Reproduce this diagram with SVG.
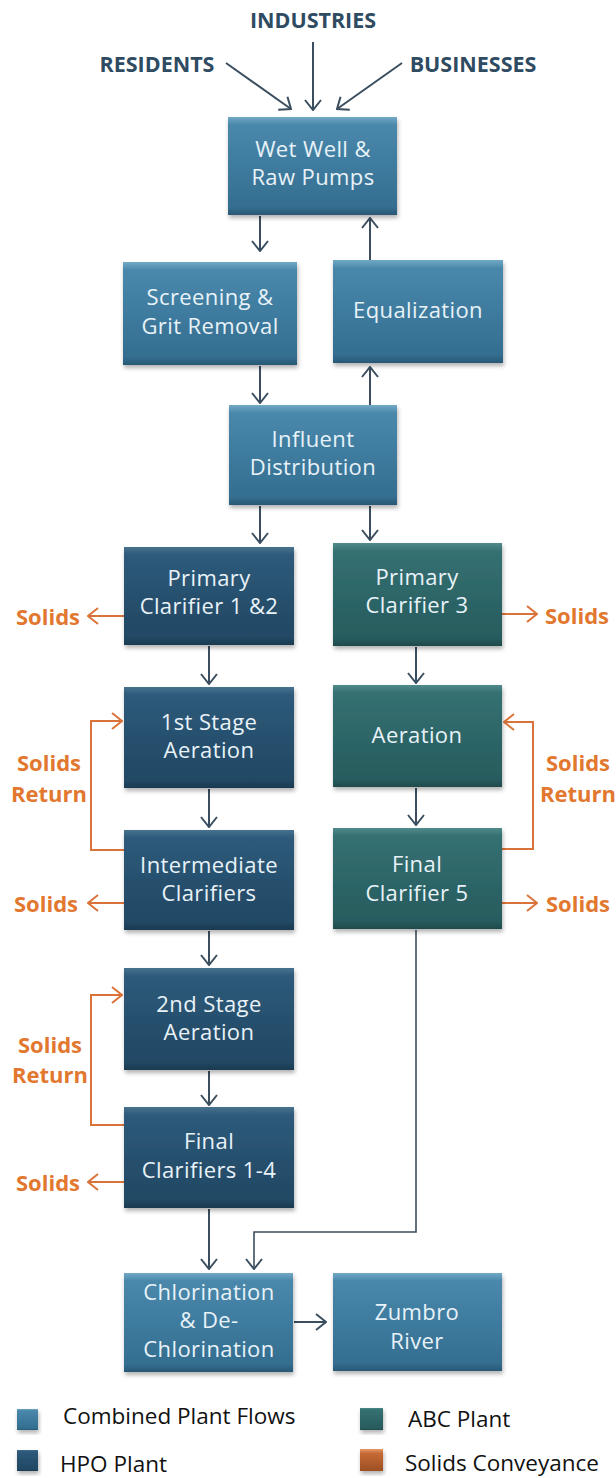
<svg xmlns="http://www.w3.org/2000/svg" width="616" height="1478" viewBox="0 0 616 1478">
<defs>
<style>
.bt{font-family:"Open Sans","Liberation Sans",sans-serif;font-size:22px;letter-spacing:0.4px;fill:#e8f2f8;text-anchor:middle}
.lb{font-family:"Open Sans","Liberation Sans",sans-serif;font-size:21.5px;font-weight:bold;fill:#2e4b62;text-anchor:middle}
.so{font-family:"Open Sans","Liberation Sans",sans-serif;font-size:22px;font-weight:bold;fill:#e2782f;text-anchor:middle}
.lg{font-family:"Open Sans","Liberation Sans",sans-serif;font-size:22.5px;fill:#111}
.cb{fill:url(#gC);filter:url(#sh)}
.hp{fill:url(#gH);filter:url(#sh)}
.ab{fill:url(#gA);filter:url(#sh)}
.or{fill:url(#gO);filter:url(#sh)}
.bl{fill:none;stroke:#3a4e5f;stroke-width:2;marker-end:url(#ab)}
.ol{fill:none;stroke:#d9733a;stroke-width:2;marker-end:url(#ao)}
</style>
<linearGradient id="gC" x1="0" y1="0" x2="0" y2="1">
<stop offset="0" stop-color="#72a9c6"/><stop offset="0.08" stop-color="#4a88ab"/><stop offset="0.5" stop-color="#3e7b9e"/><stop offset="0.92" stop-color="#346e90"/><stop offset="1" stop-color="#285875"/>
</linearGradient>
<linearGradient id="gH" x1="0" y1="0" x2="0" y2="1">
<stop offset="0" stop-color="#47728f"/><stop offset="0.08" stop-color="#2e5a7b"/><stop offset="0.5" stop-color="#27506e"/><stop offset="0.92" stop-color="#224864"/><stop offset="1" stop-color="#1a3a50"/>
</linearGradient>
<linearGradient id="gA" x1="0" y1="0" x2="0" y2="1">
<stop offset="0" stop-color="#528a8b"/><stop offset="0.08" stop-color="#357072"/><stop offset="0.5" stop-color="#2d6668"/><stop offset="0.92" stop-color="#285c5e"/><stop offset="1" stop-color="#1f4a4c"/>
</linearGradient>
<linearGradient id="gO" x1="0" y1="0" x2="0" y2="1">
<stop offset="0" stop-color="#e39a6a"/><stop offset="0.2" stop-color="#c66a35"/><stop offset="1" stop-color="#9c4f24"/>
</linearGradient>
<filter id="sh" x="-10%" y="-10%" width="125%" height="130%">
<feDropShadow dx="1" dy="3" stdDeviation="2" flood-color="#000" flood-opacity="0.3"/>
</filter>
<marker id="ab" viewBox="0 0 12 18" refX="11" refY="9" markerWidth="12" markerHeight="18" markerUnits="userSpaceOnUse" orient="auto">
<path d="M1,1 L11,9 L1,17" fill="none" stroke="#3a4e5f" stroke-width="2"/>
</marker>
<marker id="ao" viewBox="0 0 12 18" refX="11" refY="9" markerWidth="12" markerHeight="18" markerUnits="userSpaceOnUse" orient="auto">
<path d="M1,1 L11,9 L1,17" fill="none" stroke="#d9733a" stroke-width="2"/>
</marker>
</defs>
<rect width="616" height="1478" fill="#fff"/>

<g id="connectors">
<path class="bl" d="M226,63 L291,109"/>
<path class="bl" d="M313,42 L313,110"/>
<path class="bl" d="M402,63 L337,109"/>
<path class="bl" d="M260,216 L260,251"/>
<path class="bl" d="M370,260 L370,218"/>
<path class="bl" d="M260,366 L260,403"/>
<path class="bl" d="M370,405 L370,367"/>
<path class="bl" d="M260,506 L260,543"/>
<path class="bl" d="M370,506 L370,540"/>
<path class="bl" d="M209,646 L209,684"/>
<path class="bl" d="M416,647 L416,683"/>
<path class="bl" d="M209,789 L209,827"/>
<path class="bl" d="M416,788 L416,825"/>
<path class="bl" d="M209,931 L209,965"/>
<path class="bl" d="M209,1071 L209,1105"/>
<path class="bl" d="M209,1209 L209,1269"/>
<path class="bl" style="stroke-width:1.6" d="M416,930 L416,1232 L254,1232 L254,1269"/>
<path class="bl" d="M294,1322 L326,1322"/>
<path class="ol" d="M124,616 L88,616"/>
<path class="ol" d="M502,614 L537,614"/>
<path class="ol" d="M124,903 L88,903"/>
<path class="ol" d="M502,903 L537,903"/>
<path class="ol" d="M124,1182 L88,1182"/>
<path class="ol" d="M124,850 L91,850 L91,721 L122,721"/>
<path class="ol" d="M502,849 L533,849 L533,722 L504,722"/>
<path class="ol" d="M124,1125 L91,1125 L91,995 L122,995"/>
</g>

<g id="labels">
<text class="lb" x="313" y="28">INDUSTRIES</text>
<text class="lb" x="157" y="72">RESIDENTS</text>
<text class="lb" x="473" y="72">BUSINESSES</text>
<text class="so" x="48" y="625">Solids</text>
<text class="so" x="577" y="624">Solids</text>
<text class="so" x="49" y="771">Solids</text>
<text class="so" x="49" y="802">Return</text>
<text class="so" x="578" y="771">Solids</text>
<text class="so" x="578" y="802">Return</text>
<text class="so" x="46" y="912">Solids</text>
<text class="so" x="578" y="912">Solids</text>
<text class="so" x="50" y="1053">Solids</text>
<text class="so" x="50" y="1083">Return</text>
<text class="so" x="48" y="1191">Solids</text>
</g>

<g id="wetwell"><rect class="cb" x="228" y="117" width="169" height="98"/><text class="bt" x="313" y="157">Wet Well &amp;</text><text class="bt" x="313" y="185">Raw Pumps</text></g>
<g id="screening"><rect class="cb" x="123" y="262" width="174" height="103"/><text class="bt" x="210" y="305">Screening &amp;</text><text class="bt" x="210" y="334">Grit Removal</text></g>
<g id="equalization"><rect class="cb" x="333" y="260" width="170" height="103"/><text class="bt" x="418" y="318">Equalization</text></g>
<g id="influent"><rect class="cb" x="229" y="405" width="168" height="100"/><text class="bt" x="313" y="447">Influent</text><text class="bt" x="313" y="475">Distribution</text></g>
<g id="primary12"><rect class="hp" x="124" y="547" width="170" height="98"/><text class="bt" x="209" y="586">Primary</text><text class="bt" x="209" y="614">Clarifier 1 &amp;2</text></g>
<g id="primary3"><rect class="ab" x="333" y="543" width="169" height="103"/><text class="bt" x="417" y="585">Primary</text><text class="bt" x="417" y="613">Clarifier 3</text></g>
<g id="aeration1"><rect class="hp" x="124" y="687" width="170" height="101"/><text class="bt" x="209" y="730">1st Stage</text><text class="bt" x="209" y="758">Aeration</text></g>
<g id="aeration"><rect class="ab" x="333" y="685" width="169" height="102"/><text class="bt" x="417" y="743">Aeration</text></g>
<g id="intermediate"><rect class="hp" x="124" y="830" width="170" height="100"/><text class="bt" x="209" y="873">Intermediate</text><text class="bt" x="209" y="901">Clarifiers</text></g>
<g id="final5"><rect class="ab" x="333" y="828" width="169" height="101"/><text class="bt" x="417" y="872">Final</text><text class="bt" x="417" y="901">Clarifier 5</text></g>
<g id="aeration2"><rect class="hp" x="124" y="968" width="170" height="102"/><text class="bt" x="209" y="1012">2nd Stage</text><text class="bt" x="209" y="1040">Aeration</text></g>
<g id="final14"><rect class="hp" x="124" y="1107" width="170" height="101"/><text class="bt" x="209" y="1149">Final</text><text class="bt" x="209" y="1178">Clarifiers 1-4</text></g>
<g id="chlorination"><rect class="cb" x="124" y="1273" width="169" height="99"/><text class="bt" x="209" y="1300">Chlorination</text><text class="bt" x="209" y="1328">&amp; De-</text><text class="bt" x="209" y="1357">Chlorination</text></g>
<g id="zumbro"><rect class="cb" x="333" y="1273" width="169" height="98"/><text class="bt" x="417" y="1320">Zumbro</text><text class="bt" x="417" y="1349">River</text></g>

<g id="legend">
<rect class="cb" x="17" y="1409" width="21" height="21"/><text class="lg" x="63" y="1424">Combined Plant Flows</text>
<rect class="ab" x="360" y="1408" width="23" height="22"/><text class="lg" x="408" y="1427">ABC Plant</text>
<rect class="hp" x="17" y="1450" width="21" height="21"/><text class="lg" x="60" y="1472">HPO Plant</text>
<rect class="or" x="360" y="1449" width="23" height="22"/><text class="lg" x="405" y="1471">Solids Conveyance</text>
</g>
</svg>
